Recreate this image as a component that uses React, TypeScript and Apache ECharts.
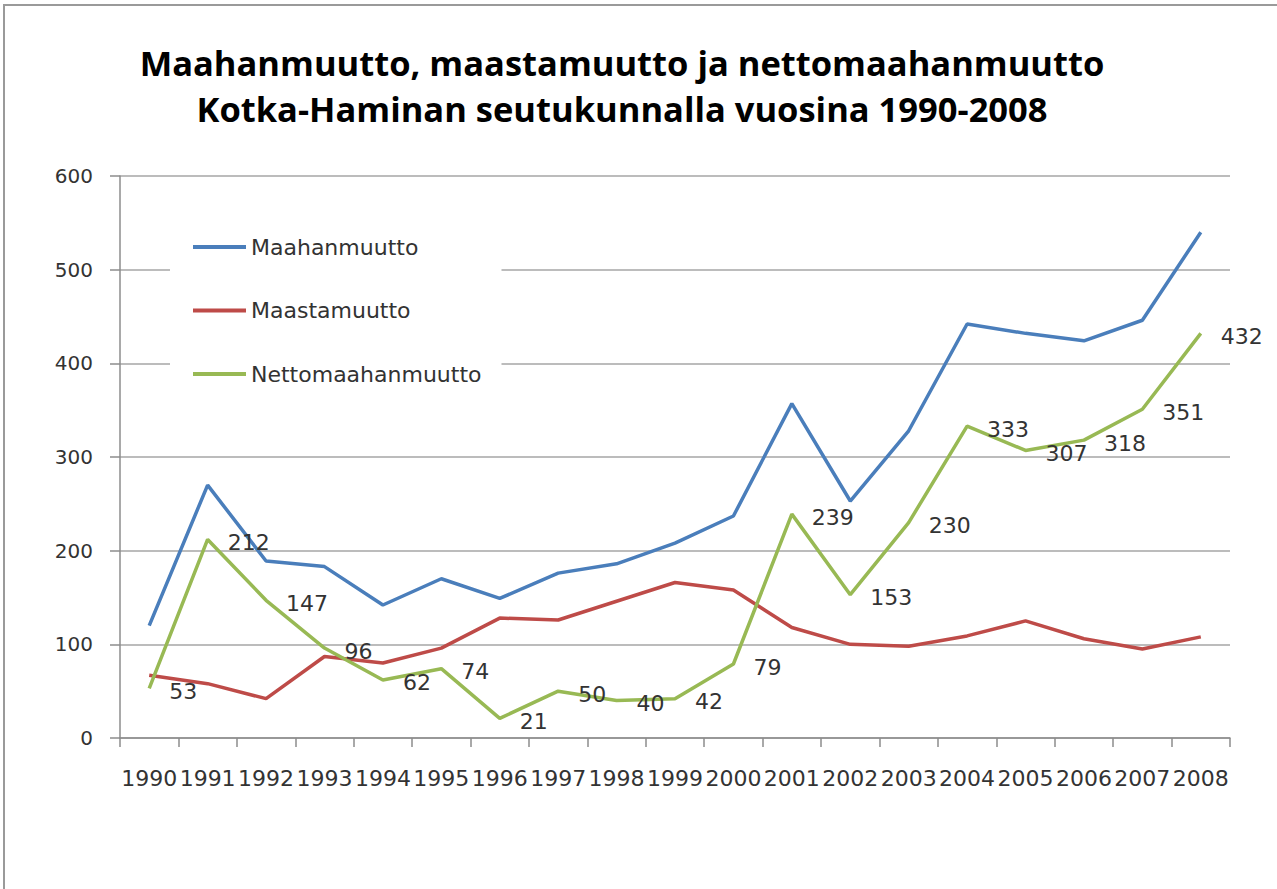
import React, { useEffect, useRef } from "react";
import * as echarts from "echarts";

const years = ["1990","1991","1992","1993","1994","1995","1996","1997","1998","1999","2000","2001","2002","2003","2004","2005","2006","2007","2008"];
const maahanmuutto = [120, 270, 189, 183, 142, 170, 149, 176, 186, 208, 237, 357, 253, 328, 442, 432, 424, 446, 540];
const maastamuutto = [67, 58, 42, 87, 80, 96, 128, 126, 146, 166, 158, 118, 100, 98, 109, 125, 106, 95, 108];
const nettomaahanmuutto = [53, 212, 147, 96, 62, 74, 21, 50, 40, 42, 79, 239, 153, 230, 333, 307, 318, 351, 432];
const titleLines = ["Maahanmuutto, maastamuutto ja nettomaahanmuutto", "Kotka-Haminan seutukunnalla vuosina 1990-2008"];

export default function App() {
  const ref = useRef<HTMLDivElement>(null);
  useEffect(() => {
    document.body.style.margin = "0";
    const chart = echarts.init(ref.current!, null, { renderer: "svg" });
    const font = "'DejaVu Sans', sans-serif";
    const titleFont = "'Open Sans', 'Noto Sans', sans-serif";
    chart.setOption({
      animation: false,
      backgroundColor: "#ffffff",
      textStyle: { fontFamily: font },
      graphic: [
        { type: "rect", shape: { x: 4, y: 5, width: 1400, height: 1000 }, style: { fill: "none", stroke: "#9a9a9a", lineWidth: 2 }, z: 0 },
        {
          type: "text", x: 622, y: 85,
          style: { text: titleLines.join("\n"), textAlign: "center", textVerticalAlign: "middle", font: `bold 34.5px ${titleFont}`, lineHeight: 46, fill: "#000" },
        },
      ],
      legend: {
        orient: "vertical",
        left: 170,
        top: 216,
        backgroundColor: "#ffffff",
        padding: [20, 20, 20, 23],
        itemGap: 41.5,
        itemWidth: 53,
        itemHeight: 4,
        icon: "rect",
        textStyle: { fontSize: 22, color: "#333", fontFamily: font, padding: [0, 0, 0, 0] },
        data: ["Maahanmuutto", "Maastamuutto", "Nettomaahanmuutto"],
        z: 5,
      },
      grid: { left: 120, right: 47, top: 176, bottom: 151, containLabel: false },
      xAxis: {
        type: "category",
        data: years,
        boundaryGap: true,
        axisLine: { lineStyle: { color: "#8c8c8c", width: 1.5 } },
        axisTick: { show: true, length: 9, lineStyle: { color: "#8c8c8c", width: 1.5 } },
        axisLabel: { fontSize: 22, color: "#333", margin: 29, interval: 0, fontFamily: font },
      },
      yAxis: {
        type: "value",
        min: 0,
        max: 600,
        interval: 100,
        axisLine: { show: true, lineStyle: { color: "#8c8c8c", width: 1.5 } },
        axisTick: { show: true, length: 10, lineStyle: { color: "#8c8c8c", width: 1.5 } },
        splitLine: { lineStyle: { color: "#a6a6a6", width: 1.5 } },
        axisLabel: { fontSize: 20, color: "#333", margin: 27, fontFamily: font },
      },
      series: [
        { name: "Maahanmuutto", type: "line", data: maahanmuutto, symbol: "none", itemStyle: { color: "#4a7ebb" }, lineStyle: { color: "#4a7ebb", width: 3.5 }, z: 3 },
        { name: "Maastamuutto", type: "line", data: maastamuutto, symbol: "none", itemStyle: { color: "#be4b48" }, lineStyle: { color: "#be4b48", width: 3.5 }, z: 3 },
        {
          name: "Nettomaahanmuutto", type: "line", data: nettomaahanmuutto, symbol: "circle", symbolSize: 0, showSymbol: true,
          itemStyle: { color: "#98b954" }, lineStyle: { color: "#98b954", width: 3.5 }, z: 3,
          label: { show: true, position: "right", distance: 20, fontSize: 22, color: "#333", fontFamily: font, offset: [0, 3] },
        },
      ],
    });
    return () => chart.dispose();
  }, []);
  return <div ref={ref} style={{ position: "absolute", left: 0, top: 0, width: 1277, height: 889 }} />;
}
